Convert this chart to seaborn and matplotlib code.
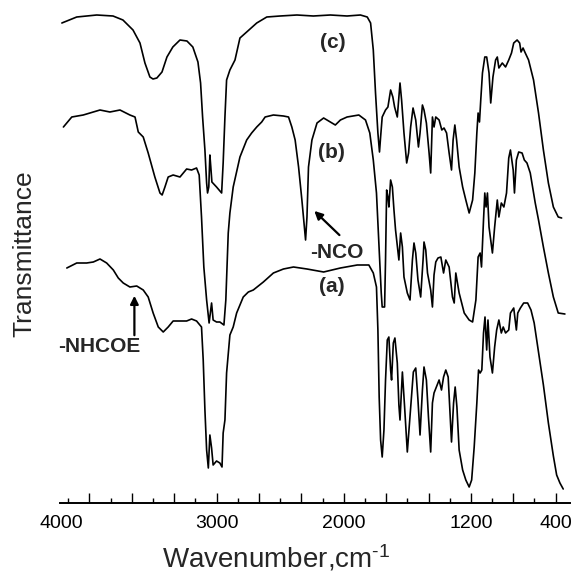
import numpy as np
import matplotlib
matplotlib.use('Agg')
import matplotlib.pyplot as plt
import seaborn as sns

# IR spectra: wavenumber (cm-1) and transmittance (a.u.),
# the three traces keep the vertical offsets they have in the figure.
wn_c = [3998, 3902, 3773, 3668, 3604, 3539, 3494, 3462, 3430, 3410,
        3385, 3352, 3320, 3282, 3236, 3191, 3153, 3120, 3103, 3090,
        3075, 3064, 3058, 3050, 3043, 3037, 3030, 3024, 3000, 2960,
        2948, 2934, 2921, 2895, 2855, 2816, 2763, 2684, 2605, 2500,
        2368, 2239, 2105, 1979, 1895, 1852, 1831, 1814, 1800, 1785,
        1775, 1768, 1758, 1737, 1722, 1705, 1691, 1680, 1663, 1646,
        1636, 1621, 1604, 1592, 1579, 1564, 1547, 1530, 1520, 1505,
        1495, 1480, 1463, 1453, 1442, 1432, 1421, 1400, 1383, 1369,
        1353, 1337, 1322, 1312, 1301, 1290, 1274, 1252, 1232, 1211,
        1184, 1163, 1144, 1132, 1119, 1107, 1091, 1069, 1051, 1029,
        1013, 992, 967, 951, 936, 904, 873, 843, 817, 796,
        764, 740, 727, 708, 687, 656, 609, 562, 516, 469,
        422, 376, 344]
t_c = [477, 483, 485, 484, 480, 470, 457, 437, 423, 421,
       422, 428, 443, 453, 460, 459, 453, 438, 417, 383,
       350, 317, 307, 313, 345, 333, 318, 317, 313, 307,
       337, 383, 420, 430, 440, 462, 468, 477, 483, 484,
       485, 484, 485, 484, 485, 483, 477, 450, 407, 367,
       348, 363, 383, 390, 393, 410, 403, 393, 383, 417,
       400, 367, 337, 347, 373, 392, 380, 353, 367, 395,
       390, 377, 347, 327, 383, 373, 383, 380, 370, 372,
       367, 347, 330, 360, 375, 360, 333, 313, 300, 287,
       300, 327, 367, 387, 378, 400, 427, 443, 443, 427,
       397, 423, 440, 443, 432, 437, 433, 440, 447, 457,
       460, 457, 448, 452, 447, 440, 420, 387, 350, 317,
       293, 283, 282]

wn_b = [3988, 3934, 3860, 3752, 3688, 3623, 3559, 3526, 3505, 3473,
        3441, 3398, 3365, 3351, 3333, 3312, 3280, 3236, 3193, 3161,
        3129, 3112, 3097, 3082, 3064, 3048, 3032, 3022, 3000, 2974,
        2942, 2927, 2908, 2895, 2869, 2816, 2763, 2724, 2684, 2645,
        2618, 2553, 2474, 2434, 2408, 2382, 2355, 2329, 2310, 2300,
        2289, 2277, 2250, 2210, 2158, 2105, 2066, 2026, 1979, 1905,
        1863, 1836, 1814, 1794, 1779, 1764, 1758, 1743, 1737, 1730,
        1722, 1716, 1705, 1694, 1684, 1674, 1653, 1642, 1631, 1621,
        1600, 1583, 1568, 1558, 1547, 1533, 1516, 1501, 1495, 1484,
        1473, 1453, 1442, 1432, 1421, 1407, 1389, 1372, 1358, 1337,
        1316, 1305, 1295, 1274, 1242, 1211, 1184, 1153, 1132, 1113,
        1100, 1081, 1069, 1057, 1044, 1029, 997, 976, 951, 936,
        913, 889, 864, 843, 827, 801, 789, 771, 749, 717,
        696, 671, 640, 609, 593, 562, 516, 469, 422, 376,
        313]
t_b = [373, 383, 385, 390, 388, 390, 385, 383, 368, 363,
       347, 323, 307, 305, 313, 323, 325, 323, 331, 330,
       332, 325, 283, 233, 200, 177, 197, 180, 178, 178,
       175, 200, 267, 287, 313, 343, 360, 367, 373, 378,
       383, 385, 384, 383, 373, 360, 333, 300, 273, 260,
       283, 333, 360, 377, 382, 378, 375, 380, 383, 385,
       380, 367, 340, 307, 257, 207, 193, 193, 240, 310,
       303, 293, 320, 313, 290, 270, 240, 267, 253, 223,
       207, 200, 240, 257, 247, 220, 203, 240, 258, 250,
       227, 210, 193, 225, 238, 242, 243, 227, 240, 233,
       203, 197, 227, 207, 187, 180, 178, 200, 243, 247,
       233, 280, 307, 293, 307, 273, 247, 273, 300, 283,
       297, 293, 307, 342, 350, 330, 307, 340, 348, 347,
       340, 337, 327, 307, 297, 280, 253, 227, 203, 187,
       186]

wn_a = [3966, 3902, 3838, 3795, 3752, 3709, 3666, 3634, 3602, 3559,
        3515, 3473, 3441, 3409, 3376, 3344, 3312, 3280, 3236, 3193,
        3161, 3129, 3097, 3086, 3075, 3064, 3053, 3043, 3032, 3022,
        3000, 2974, 2957, 2948, 2934, 2921, 2895, 2869, 2842, 2790,
        2750, 2711, 2632, 2553, 2474, 2395, 2289, 2158, 2026, 1915,
        1842, 1814, 1794, 1785, 1777, 1768, 1758, 1747, 1737, 1726,
        1716, 1705, 1699, 1688, 1678, 1663, 1653, 1646, 1631, 1617,
        1600, 1579, 1562, 1547, 1533, 1520, 1505, 1495, 1480, 1467,
        1453, 1442, 1432, 1417, 1400, 1385, 1372, 1358, 1343, 1331,
        1322, 1309, 1299, 1288, 1274, 1252, 1232, 1211, 1193, 1169,
        1144, 1128, 1113, 1097, 1081, 1067, 1051, 1039, 1020, 997,
        976, 957, 936, 913, 895, 873, 843, 827, 796, 771,
        758, 733, 702, 665, 633, 603, 562, 516, 469, 422,
        391, 360, 329]
t_a = [232, 237, 237, 238, 241, 237, 230, 222, 217, 213,
       214, 210, 203, 187, 173, 168, 173, 179, 179, 179,
       181, 179, 173, 140, 90, 50, 32, 65, 52, 35,
       39, 37, 33, 67, 80, 127, 165, 173, 187, 203,
       208, 210, 218, 227, 231, 233, 231, 228, 232, 235,
       235, 227, 213, 170, 103, 60, 43, 70, 120, 160,
       163, 130, 120, 157, 162, 137, 95, 80, 128, 93,
       48, 93, 128, 132, 100, 65, 110, 133, 120, 83,
       48, 97, 107, 113, 120, 110, 123, 130, 123, 87,
       58, 97, 113, 93, 50, 30, 20, 13, 20, 53,
       97, 130, 127, 130, 167, 183, 150, 180, 143, 127,
       153, 170, 180, 167, 173, 167, 170, 187, 192, 170,
       187, 192, 197, 197, 190, 177, 148, 115, 77, 44,
       25, 17, 11]

# the printed wavenumber axis is not linear: where each label sits, in tick intervals
axis_wn = [4000, 3000, 2000, 1200, 400]
axis_pos = [-0.656, 3, 6, 9, 11]


def wn_to_pos(w):
    w = np.asarray(w, dtype=float)
    pos = np.interp(w, axis_wn[::-1], axis_pos[::-1])
    slope_lo = (axis_pos[-1] - axis_pos[-2]) / (axis_wn[-2] - axis_wn[-1])
    slope_hi = (axis_pos[1] - axis_pos[0]) / (axis_wn[0] - axis_wn[1])
    pos = np.where(w < axis_wn[-1], axis_pos[-1] + (axis_wn[-1] - w) * slope_lo, pos)
    pos = np.where(w > axis_wn[0], axis_pos[0] - (w - axis_wn[0]) * slope_hi, pos)
    return pos


def pos_to_wn(p):
    p = np.asarray(p, dtype=float)
    w = np.interp(p, axis_pos, axis_wn)
    slope_lo = (axis_wn[-2] - axis_wn[-1]) / (axis_pos[-1] - axis_pos[-2])
    slope_hi = (axis_wn[0] - axis_wn[1]) / (axis_pos[1] - axis_pos[0])
    w = np.where(p > axis_pos[-1], axis_wn[-1] - (p - axis_pos[-1]) * slope_lo, w)
    w = np.where(p < axis_pos[0], axis_wn[0] + (axis_pos[0] - p) * slope_hi, w)
    return w


sns.set_style('white')
plt.rcParams['font.family'] = ['Liberation Sans', 'DejaVu Sans']
plt.rcParams['mathtext.fontset'] = 'custom'
plt.rcParams['mathtext.rm'] = 'Liberation Sans'
plt.rcParams['mathtext.it'] = 'Liberation Sans:italic'
plt.rcParams['mathtext.bf'] = 'Liberation Sans:bold'

fig = plt.figure(figsize=(5.75, 5.72), dpi=100)
ax = fig.add_axes([60 / 575, 69 / 572, 510 / 575, 498 / 572])

for wn, t in [(wn_a, t_a), (wn_b, t_b), (wn_c, t_c)]:
    sns.lineplot(x=wn, y=t, ax=ax, color='black', lw=1.2, estimator=None, sort=False)

ax.set_xscale('function', functions=(wn_to_pos, pos_to_wn))
# the scale function already runs high-to-low wavenumber left to right
ax.set_xlim(265, 4010)
ax.set_ylim(-3, 495)

# ticks: evenly spaced on the drawn axis, labels only at the printed values
major = [4000] + [float(v) for v in pos_to_wn(np.arange(0, 12))]
labels = ['4000'] + ['' for _ in range(12)]
for i, v in enumerate(major):
    for lab in ['3000', '2000', '1200', '400']:
        if i > 0 and abs(v - float(lab)) < 1:
            labels[i] = lab
ax.set_xticks(major, labels)
ax.set_xticks(pos_to_wn(np.arange(-0.5, 11, 1.0)), minor=True)
ax.tick_params(axis='x', which='major', bottom=True, direction='in', length=7,
               width=1.0, pad=8.5, labelsize=14, colors='black')
ax.tick_params(axis='x', which='minor', bottom=True, direction='in', length=3.5,
               width=1.0, colors='black')
ax.xaxis.get_major_ticks()[0].tick1line.set_visible(False)
ax.set_yticks([])

for side in ['top', 'right', 'left']:
    ax.spines[side].set_visible(False)
ax.spines['bottom'].set_linewidth(1.4)
ax.spines['bottom'].set_color('black')

ax.set_xlabel(r'Wavenumber,cm$^{\text{-1}}$', fontsize=20)
ax.xaxis.set_label_coords(0.424, -0.079)
ax.set_ylabel('Transmittance', fontsize=19)
ax.yaxis.set_label_coords(-0.047, 0.5)

# curve labels and band markers
ax.text(2089, 458, '(c)', ha='center', va='center', fontsize=15, fontweight='bold')
ax.text(2097, 348, '(b)', ha='center', va='center', fontsize=15, fontweight='bold')
ax.text(2097, 214, '(a)', ha='center', va='center', fontsize=15, fontweight='bold')
ax.text(2058, 248, '-NCO', ha='center', va='center', fontsize=15, fontweight='bold')
ax.annotate('', xy=(2247, 291), xytext=(2018, 263),
            arrowprops=dict(arrowstyle='-|>', color='black', lw=1.6, mutation_scale=12))
ax.text(3755, 153, '-NHCOE', ha='center', va='center', fontsize=15, fontweight='bold')
ax.annotate('', xy=(3530, 207), xytext=(3530, 162),
            arrowprops=dict(arrowstyle='-|>', color='black', lw=1.6, mutation_scale=12))

fig.savefig('out.png', dpi=100)
